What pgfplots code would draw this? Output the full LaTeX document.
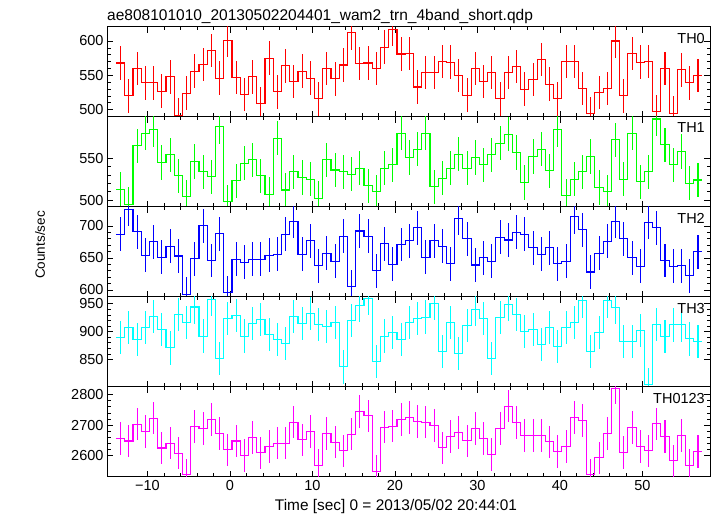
\documentclass[border=0pt]{standalone}
\usepackage{fontspec}
\setmainfont{Liberation Sans}
\usepackage{pgfplots}
\usepackage{pgfplotstable}
\pgfplotsset{compat=1.18}
\definecolor{cred}{RGB}{255,0,0}
\definecolor{cgreen}{RGB}{0,255,0}
\definecolor{cblue}{RGB}{0,0,255}
\definecolor{ccyan}{RGB}{0,255,255}
\definecolor{cmag}{RGB}{255,0,255}
\pgfplotstableread{
t a b c d e
-13.25 568 513 687 890 2656
-12.25 520 495 726 907 2648
-11.25 560 565 691 886 2703
-10.25 539 580 654 907 2679
-9.25 539 584 675 927 2723
-8.25 527 545 651 904 2625
-7.25 548 554 668 871 2641
-6.25 492 529 653 931 2608
-5.25 524 504 593 916 2537
-4.25 556 546 649 944 2696
-3.25 566 534 700 892 2689
-2.25 586 528 646 958 2719
-1.25 546 588 688 852 2673
-0.25 601 498 596 923 2619
0.75 547 523 648 929 2648
1.75 522 544 643 892 2600
2.75 548 548 648 915 2659
3.75 509 529 648 922 2609
4.75 575 507 654 895 2630
5.75 526 574 656 886 2641
6.75 564 512 687 879 2641
7.75 541 534 707 927 2710
8.75 556 527 656 914 2652
9.75 546 525 677 932 2679
10.75 516 502 638 913 2569
11.75 560 548 657 909 2673
12.75 545 536 645 916 2644
13.75 565 534 684 837 2616
14.75 612 531 605 920 2670
15.75 567 538 692 947 2745
16.75 568 517 684 960 2731
17.75 560 510 630 847 2548
18.75 591 538 672 892 2693
19.75 617 542 640 898 2697
20.75 581 580 671 886 2719
21.75 582 551 677 916 2725
22.75 533 561 697 923 2712
23.75 554 580 651 926 2710
24.75 554 516 677 950 2699
25.75 570 526 668 864 2626
26.75 569 538 641 916 2663
27.75 550 555 712 861 2676
28.75 521 538 680 911 2649
29.75 560 551 639 939 2689
30.75 541 542 650 923 2656
31.75 554 554 645 852 2604
32.75 516 568 682 925 2689
33.75 554 579 678 949 2762
34.75 563 557 690 931 2709
35.75 530 521 687 900 2666
36.75 544 552 666 904 2666
37.75 573 561 656 877 2666
38.75 537 535 666 907 2645
39.75 516 584 641 873 2614
40.75 570 505 645 908 2630
41.75 570 525 714 916 2725
42.75 531 534 694 955 2715
43.75 494 552 628 865 2537
44.75 525 515 657 898 2593
45.75 531 510 676 955 2673
46.75 600 572 707 943 2821
47.75 520 525 680 882 2610
48.75 582 580 650 882 2692
49.75 569 522 637 902 2630
50.75 570 534 706 805 2616
51.75 497 597 697 913 2704
52.75 560 566 646 891 2663
53.75 495 542 637 912 2583
54.75 558 558 638 912 2666
55.75 539 520 622 887 2569
56.75 550 524 660 882 2614
57.75 550 524 660 882 2614
}\data
\pgfplotsset{
  panel/.style={
    scale only axis, width=603pt, height=90pt, anchor=south west,
    xmin=-14.9, xmax=58.2,
    xtick={-10,0,10,20,30,40,50}, minor x tick num=4,
    minor y tick num=4,
    tick align=inside, xtick pos=both, ytick pos=both,
    major tick length=6pt, minor tick length=3.5pt,
    axis line style={line width=0.9pt},
    every tick/.style={black, line width=0.7pt},
    tick label style={font=\fontsize{14.5}{16}\selectfont},
    /pgf/number format/assume math mode=true,
    /pgf/number format/1000 sep={},
    scaled y ticks=false,
  },
  mysteps/.style={const plot mark left, mark=none, draw=#1, line width=1.1pt},
  myerrs/.style 2 args={draw=none, mark=none, skip coords between index={71}{72},
    error bars/.cd, y dir=both, y fixed=#1, error mark=none,
    error bar style={draw=#2, line width=1.1pt}},
}
\newcommand{\lab}[1]{\node[anchor=north east, inner sep=0pt, font=\fontsize{14.5}{16}\selectfont] at (rel axis cs:1,1) [xshift=-5pt, yshift=-6pt] {#1};}
\begin{document}
\begin{tikzpicture}[x=1pt,y=1pt]
\useasboundingbox (0,0) rectangle (717,516);
% TH0
\begin{axis}[panel, at={(107pt,399.3pt)}, ymin=489.8, ymax=620.8, ytick={500,550,600}, xticklabels={}]
\addplot[mysteps=cred] table[x expr=\thisrow{t}-0.5, y=a]{\data};
\addplot[myerrs={24.5}{cred}] table[x=t, y=a]{\data};
\lab{TH0}
\end{axis}
% TH1
\begin{axis}[panel, at={(107pt,309.3pt)}, ymin=492, ymax=599.8, ytick={500,550}, xticklabels={}]
\addplot[mysteps=cgreen] table[x expr=\thisrow{t}-0.5, y=b]{\data};
\addplot[myerrs={20.5}{cgreen}] table[x=t, y=b]{\data};
\lab{TH1}
\end{axis}
% TH2
\begin{axis}[panel, at={(107pt,219.3pt)}, ymin=589.5, ymax=730, ytick={600,650,700}, xticklabels={}]
\addplot[mysteps=cblue] table[x expr=\thisrow{t}-0.5, y=c]{\data};
\addplot[myerrs={26.5}{cblue}] table[x=t, y=c]{\data};
\lab{TH2}
\end{axis}
% TH3
\begin{axis}[panel, at={(107pt,129.3pt)}, ymin=801.5, ymax=962.5, ytick={850,900,950}, xticklabels={}]
\addplot[mysteps=ccyan] table[x expr=\thisrow{t}-0.5, y=d]{\data};
\addplot[myerrs={29.8}{ccyan}] table[x=t, y=d]{\data};
\lab{TH3}
\end{axis}
% TH0123
\begin{axis}[panel, at={(107pt,39.3pt)}, ymin=2531, ymax=2826, ytick={2600,2700,2800},
  xticklabels={−10,0,10,20,30,40,50}]
\addplot[mysteps=cmag] table[x expr=\thisrow{t}-0.5, y=e]{\data};
\addplot[myerrs={53}{cmag}] table[x=t, y=e]{\data};
\lab{TH0123}
\end{axis}
\node[anchor=base west, inner sep=0pt, font=\fontsize{15.5}{18}\selectfont] at (107,495) {ae808101010\_20130502204401\_wam2\_trn\_4band\_short.qdp};
\node[anchor=center, rotate=90, inner sep=0pt, font=\fontsize{13.5}{16}\selectfont] at (40,271) {Counts/sec};
\node[anchor=base, inner sep=0pt, font=\fontsize{15.4}{16}\selectfont] at (396,5) {Time [sec] 0 = 2013/05/02 20:44:01};
\end{tikzpicture}
\end{document}
